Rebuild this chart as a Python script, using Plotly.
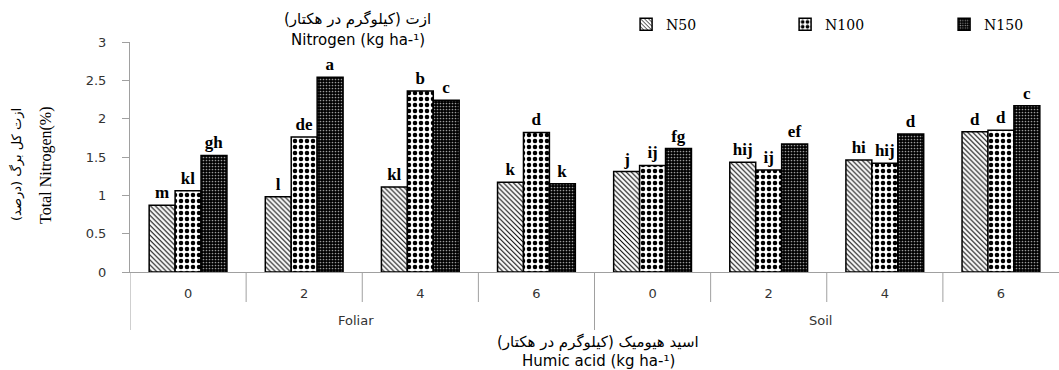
import plotly.graph_objects as go

methods = ["Foliar"] * 4 + ["Soil"] * 4
humic = ["0", "2", "4", "6", "0", "2", "4", "6"]
groups = ["Foliar", "Soil"]

n50 = [0.87, 0.98, 1.11, 1.17, 1.31, 1.43, 1.46, 1.83]
n100 = [1.06, 1.76, 2.36, 1.82, 1.39, 1.33, 1.42, 1.85]
n150 = [1.52, 2.54, 2.24, 1.15, 1.61, 1.67, 1.80, 2.17]

lab50 = ["m", "l", "kl", "k", "j", "hij", "hi", "d"]
lab100 = ["kl", "de", "b", "d", "ij", "ij", "hij", "d"]
lab150 = ["gh", "a", "c", "k", "fg", "ef", "d", "c"]

series = ["N50", "N100", "N150"]

cats = [f"{m} {h}" for m, h in zip(methods, humic)]

styles = [
    dict(shape="\\", bgcolor="white", fgcolor="black", size=3.5, solidity=0.3),
    dict(shape=".", bgcolor="white", fgcolor="black", size=6, solidity=0.45),
    dict(shape=".", bgcolor="black", fgcolor="#9a9a9a", size=3, solidity=0.25),
]

fig = go.Figure()
for name, vals, labs, st in zip(series, [n50, n100, n150], [lab50, lab100, lab150], styles):
    fig.add_trace(go.Bar(
        x=cats, y=vals, name=name, text=labs,
        textposition="outside", cliponaxis=False, constraintext="none",
        textfont=dict(family="Liberation Serif", size=17, color="black", weight="bold"),
        marker=dict(color=st["bgcolor"], line=dict(color="black", width=1.5),
                    pattern=dict(shape=st["shape"], bgcolor=st["bgcolor"], fgcolor=st["fgcolor"],
                                 size=st["size"], solidity=st["solidity"], fillmode="replace")),
    ))

fig.update_layout(
    width=1059, height=370,
    margin=dict(l=130, r=0, t=42, b=98, autoexpand=False),
    paper_bgcolor="white", plot_bgcolor="white",
    barmode="group", bargap=0.33, bargroupgap=0,
    font=dict(family="DejaVu Sans", size=13, color="#333"),
    showlegend=True,
    legend=dict(orientation="h", x=0.534, y=1.075, xanchor="left", yanchor="middle",
                font=dict(family="DejaVu Serif", size=14, color="black"),
                entrywidth=114, entrywidthmode="pixels", bgcolor="rgba(0,0,0,0)"),
    xaxis=dict(type="category", showline=True, linecolor="#a0a0a0", linewidth=1,
               ticks="", tickmode="array", tickvals=cats, ticktext=humic,
               ticklabelstandoff=9, range=[-0.5, len(cats) - 0.5],
               tickfont=dict(family="DejaVu Sans", size=13, color="#333"), showgrid=False),
    yaxis=dict(range=[0, 3], dtick=0.5, showline=True, linecolor="#a0a0a0", linewidth=1,
               ticks="outside", ticklen=7, tickcolor="#a0a0a0", showgrid=False,
               ticklabelstandoff=13,
               zeroline=False, tickfont=dict(family="DejaVu Sans", size=13, color="#333")),
)

# category boundary ticks and group dividers on the x axis
n = len(cats)
for i in range(n):
    b = i - 0.5
    long_line = (i % 4 == 0)
    fig.add_shape(type="line", xref="x", yref="paper", x0=b, x1=b,
                  y0=0, y1=(-58 if long_line else -30) / 230,
                  line=dict(color="#a0a0a0", width=1))

for gi, g in enumerate(groups):
    fig.add_annotation(text=g, xref="x", yref="paper", x=gi * 4 + 1.45, y=(272 - 320) / 230,
                       showarrow=False, xanchor="center", yanchor="middle",
                       font=dict(family="DejaVu Sans", size=13, color="#333"))

ann = [
    dict(text="ازت (کیلوگرم در هکتار)", x=357, y=19, size=15, fam="DejaVu Sans"),
    dict(text="Nitrogen (kg ha-¹)", x=358, y=40, size=15, fam="DejaVu Sans"),
    dict(text="اسید هیومیک (کیلوگرم در هکتار)", x=598, y=342, size=15, fam="DejaVu Sans"),
    dict(text="Humic acid (kg ha-¹)", x=598, y=361, size=15, fam="DejaVu Sans"),
]
for a in ann:
    fig.add_annotation(text=a["text"], xref="paper", yref="paper",
                       x=(a["x"] - 130) / 929, y=(272 - a["y"]) / 230,
                       showarrow=False, xanchor="center", yanchor="middle",
                       font=dict(family=a["fam"], size=a["size"], color="black"))

fig.add_annotation(text="ازت کل برگ (درصد)", xref="paper", yref="paper",
                   x=(16 - 130) / 929, y=(272 - 165) / 230, textangle=-90,
                   showarrow=False, xanchor="center", yanchor="middle",
                   font=dict(family="DejaVu Sans", size=13, color="black"))
fig.add_annotation(text="Total Nitrogen(%)", xref="paper", yref="paper",
                   x=(46 - 130) / 929, y=(272 - 165) / 230, textangle=-90,
                   showarrow=False, xanchor="center", yanchor="middle",
                   font=dict(family="Liberation Serif", size=16, color="black"))

fig.write_html("out.html", config={"displayModeBar": False},
               post_script="document.body.style.margin='0';")
